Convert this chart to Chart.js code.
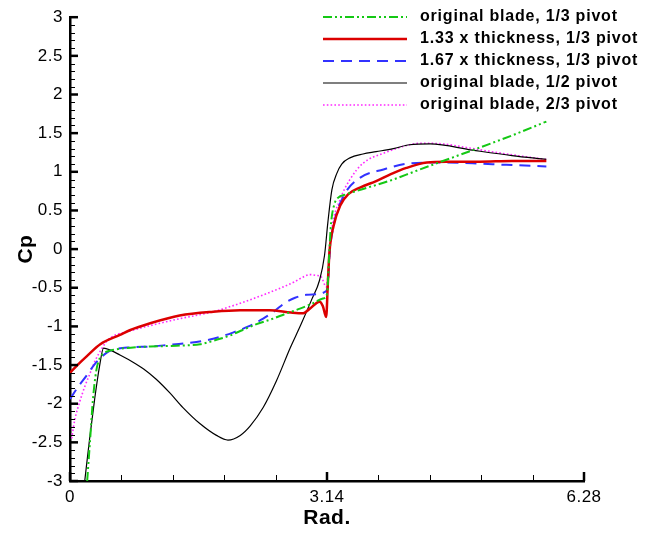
<!DOCTYPE html>
<html>
<head>
<meta charset="utf-8">
<script src="https://cdn.jsdelivr.net/npm/chart.js@4.4.1/dist/chart.umd.min.js"></script>
<style>
html, body { margin: 0; padding: 0; background: #fff; }
</style>
</head>
<body>
<canvas id="cpChart" width="657" height="534"></canvas>
<script>
// tick labels
var xMajor = [0, 3.14, 6.28];
var xMinor = [0.628, 1.256, 1.884, 2.512, 3.768, 4.396, 5.024, 5.652];

var seriesNames = [
    'original blade, 1/3 pivot',
    '1.33 x thickness, 1/3 pivot',
    '1.67 x thickness, 1/3 pivot',
    'original blade, 1/2 pivot',
    'original blade, 2/3 pivot'
];

// original blade, 1/3 pivot
var gX = [0.21, 0.25, 0.28, 0.32, 0.36, 0.41, 0.50, 0.61, 0.80, 0.98, 1.30, 1.59, 1.80, 1.95, 2.08, 2.28, 2.48, 2.65, 2.81, 2.95, 3.09, 3.14, 3.17, 3.19, 3.23, 3.27, 3.38, 3.65, 3.95, 4.20, 4.48, 4.92, 5.40, 5.82];
var gY = [-3.00, -2.40, -1.95, -1.58, -1.42, -1.35, -1.31, -1.29, -1.27, -1.26, -1.25, -1.23, -1.17, -1.12, -1.06, -0.97, -0.90, -0.83, -0.77, -0.71, -0.64, -0.58, 0.00, 0.34, 0.58, 0.66, 0.71, 0.80, 0.90, 1.00, 1.11, 1.28, 1.47, 1.65];

// 1.33 x thickness
var rX = [0.00, 0.10, 0.20, 0.37, 0.61, 0.73, 0.98, 1.34, 1.75, 2.08, 2.44, 2.70, 2.85, 2.93, 3.05, 3.09, 3.13, 3.15, 3.17, 3.22, 3.30, 3.40, 3.55, 3.74, 3.92, 4.11, 4.36, 4.60, 5.00, 5.40, 5.82];
var rY = [-1.60, -1.49, -1.39, -1.23, -1.11, -1.05, -0.96, -0.86, -0.81, -0.79, -0.79, -0.82, -0.83, -0.77, -0.68, -0.74, -0.88, -0.45, -0.04, 0.30, 0.56, 0.71, 0.80, 0.88, 0.97, 1.05, 1.12, 1.13, 1.13, 1.14, 1.14];

// 1.67 x thickness
var bX = [0.00, 0.10, 0.20, 0.30, 0.37, 0.45, 0.53, 0.75, 0.98, 1.20, 1.40, 1.71, 1.99, 2.18, 2.36, 2.50, 2.62, 2.75, 2.89, 3.05, 3.12, 3.15, 3.17, 3.22, 3.34, 3.54, 3.83, 4.15, 4.50, 4.92, 5.33, 5.82];
var bY = [-1.94, -1.78, -1.64, -1.49, -1.41, -1.34, -1.30, -1.27, -1.26, -1.24, -1.22, -1.17, -1.08, -1.00, -0.90, -0.80, -0.70, -0.63, -0.59, -0.58, -0.55, -0.49, -0.09, 0.30, 0.68, 0.92, 1.03, 1.11, 1.12, 1.11, 1.09, 1.07];

// original blade, 1/2 pivot
var kX = [0.18, 0.24, 0.30, 0.36, 0.41, 0.50, 0.61, 0.75, 0.90, 1.05, 1.22, 1.38, 1.59, 1.79, 1.93, 2.08, 2.20, 2.36, 2.52, 2.69, 2.82, 2.95, 3.05, 3.11, 3.15, 3.20, 3.26, 3.32, 3.42, 3.58, 3.74, 3.95, 4.15, 4.40, 4.92, 5.40, 5.82];
var kY = [-3.00, -2.45, -1.95, -1.52, -1.28, -1.31, -1.37, -1.45, -1.55, -1.68, -1.86, -2.05, -2.26, -2.41, -2.47, -2.41, -2.29, -2.05, -1.71, -1.28, -0.98, -0.66, -0.40, -0.08, 0.34, 0.77, 0.98, 1.10, 1.18, 1.23, 1.26, 1.30, 1.35, 1.36, 1.28, 1.21, 1.16];

// original blade, 2/3 pivot
var mX = [0.02, 0.06, 0.12, 0.18, 0.24, 0.30, 0.37, 0.43, 0.49, 0.73, 0.98, 1.34, 1.75, 2.08, 2.44, 2.73, 2.85, 2.93, 3.01, 3.07, 3.13, 3.17, 3.20, 3.30, 3.42, 3.58, 3.83, 4.15, 4.31, 4.56, 4.92, 5.40, 5.82];
var mY = [-2.45, -2.20, -1.97, -1.78, -1.62, -1.46, -1.32, -1.22, -1.15, -1.06, -0.99, -0.90, -0.81, -0.70, -0.56, -0.43, -0.36, -0.33, -0.34, -0.36, -0.49, -0.10, 0.26, 0.64, 0.90, 1.11, 1.24, 1.35, 1.37, 1.36, 1.30, 1.22, 1.16];

function toPoints(xs, ys) {
    var pts = [];
    for (let i = 0; i < xs.length; i++) {
        pts.push({x: xs[i], y: ys[i]});
    }
    return pts;
}

var fontFamily = "'Liberation Sans', Arial, sans-serif";

// a little wider lettering, like the original plotting program
var spacing = {
    id: 'spacing',
    beforeLayout(chart) { chart.ctx.letterSpacing = '0.5px'; },
    beforeDraw(chart) { chart.ctx.letterSpacing = '0.5px'; }
};

// inward tick marks like the original plot
var innerTicks = {
    id: 'innerTicks',
    afterDatasetsDraw(chart) {
        var ctx = chart.ctx;
        var xs = chart.scales.x;
        var ys = chart.scales.y;
        var area = chart.chartArea;
        ctx.save();
        ctx.strokeStyle = '#000';
        ctx.lineCap = 'butt';
        ctx.lineWidth = 1;
        xMinor.forEach(function(v) {
            var px = Math.round(xs.getPixelForValue(v)) + 0.5;
            ctx.beginPath(); ctx.moveTo(px, area.bottom); ctx.lineTo(px, area.bottom - 6); ctx.stroke();
        });
        for (let i = -30; i <= 30; i++) {
            if (i % 5 === 0) continue;
            var py = Math.round(ys.getPixelForValue(i / 10)) + 0.5;
            ctx.beginPath(); ctx.moveTo(area.left, py); ctx.lineTo(area.left + 5, py); ctx.stroke();
        }
        ctx.lineWidth = 2.5;
        xMajor.forEach(function(v) {
            var px = xs.getPixelForValue(v);
            ctx.beginPath(); ctx.moveTo(px, area.bottom); ctx.lineTo(px, area.bottom - 9); ctx.stroke();
        });
        for (let i = -6; i <= 6; i++) {
            var py = ys.getPixelForValue(i / 2);
            ctx.beginPath(); ctx.moveTo(area.left, py); ctx.lineTo(area.left + 8, py); ctx.stroke();
        }
        ctx.restore();
    }
};

// legend box in the upper right corner
var cornerLegend = {
    id: 'cornerLegend',
    afterDraw(chart) {
        var ctx = chart.ctx;
        ctx.save();
        ctx.font = 'bold 16px ' + fontFamily;
        ctx.letterSpacing = '0.8px';
        ctx.textBaseline = 'middle';
        ctx.textAlign = 'left';
        chart.data.datasets.forEach(function(ds, i) {
            var y = 17 + i * 22;
            ctx.strokeStyle = ds.borderColor;
            ctx.lineWidth = ds.borderWidth;
            ctx.setLineDash(ds.borderDash || []);
            ctx.beginPath(); ctx.moveTo(323, y); ctx.lineTo(407, y); ctx.stroke();
            ctx.setLineDash([]);
            ctx.fillStyle = '#000';
            ctx.fillText(ds.label, 420, y);
        });
        ctx.restore();
    }
};

function genChart() {
    var ctx = document.getElementById('cpChart');
    var cpChart = new Chart(ctx, {
        type: 'scatter',
        data: {
            datasets: [{
                    label: seriesNames[0],
                    data: toPoints(gX, gY),
                    borderColor: 'rgb(20,200,20)',
                    borderWidth: 2,
                    borderDash: [9, 3, 2, 3, 2, 3]
                },
                {
                    label: seriesNames[1],
                    data: toPoints(rX, rY),
                    borderColor: 'rgb(220,0,0)',
                    borderWidth: 2.5
                },
                {
                    label: seriesNames[2],
                    data: toPoints(bX, bY),
                    borderColor: 'rgb(50,50,255)',
                    borderWidth: 2,
                    borderDash: [11, 7]
                },
                {
                    label: seriesNames[3],
                    data: toPoints(kX, kY),
                    borderColor: '#000',
                    borderWidth: 1.2
                },
                {
                    label: seriesNames[4],
                    data: toPoints(mX, mY),
                    borderColor: 'rgb(255,40,255)',
                    borderWidth: 1.6,
                    borderDash: [1.6, 2.2]
                }
            ]
        },
        options: {
            responsive: false,
            animation: false,
            devicePixelRatio: 1,
            showLine: true,
            elements: {
                point: { radius: 0 },
                line: { cubicInterpolationMode: 'monotone', fill: false }
            },
            layout: { padding: { left: 0, right: 73, top: 13, bottom: 0 } },
            plugins: {
                legend: { display: false },
                tooltip: { enabled: false }
            },
            scales: {
                x: {
                    type: 'linear',
                    min: 0,
                    max: 6.28,
                    afterBuildTicks: function(scale) {
                        scale.ticks = xMajor.map(function(v) { return {value: v}; });
                    },
                    afterFit: function(scale) { scale.height = 53; },
                    grid: { drawOnChartArea: false, drawTicks: false },
                    border: { display: true, color: '#000', width: 2.5 },
                    ticks: {
                        color: '#000',
                        padding: 6,
                        maxRotation: 0,
                        autoSkip: false,
                        font: { family: fontFamily, size: 17 },
                        callback: function(v) { return String(v); }
                    },
                    title: {
                        display: true,
                        text: 'Rad.',
                        color: '#000',
                        font: { family: fontFamily, size: 21, weight: 'bold' },
                        padding: { top: 0, bottom: 3 }
                    }
                },
                y: {
                    type: 'linear',
                    min: -3,
                    max: 3,
                    afterFit: function(scale) { scale.width = 70; },
                    grid: { drawOnChartArea: false, drawTicks: false },
                    border: { display: true, color: '#000', width: 2.5 },
                    ticks: {
                        color: '#000',
                        padding: 7,
                        stepSize: 0.5,
                        font: { family: fontFamily, size: 17 },
                        callback: function(v) { return String(v); }
                    },
                    title: {
                        display: true,
                        text: 'Cp',
                        color: '#000',
                        font: { family: fontFamily, size: 21, weight: 'bold' },
                        padding: { top: 14, bottom: 0 }
                    }
                }
            }
        },
        plugins: [spacing, innerTicks, cornerLegend]
    });
    return cpChart;
}

genChart();
</script>
</body>
</html>
